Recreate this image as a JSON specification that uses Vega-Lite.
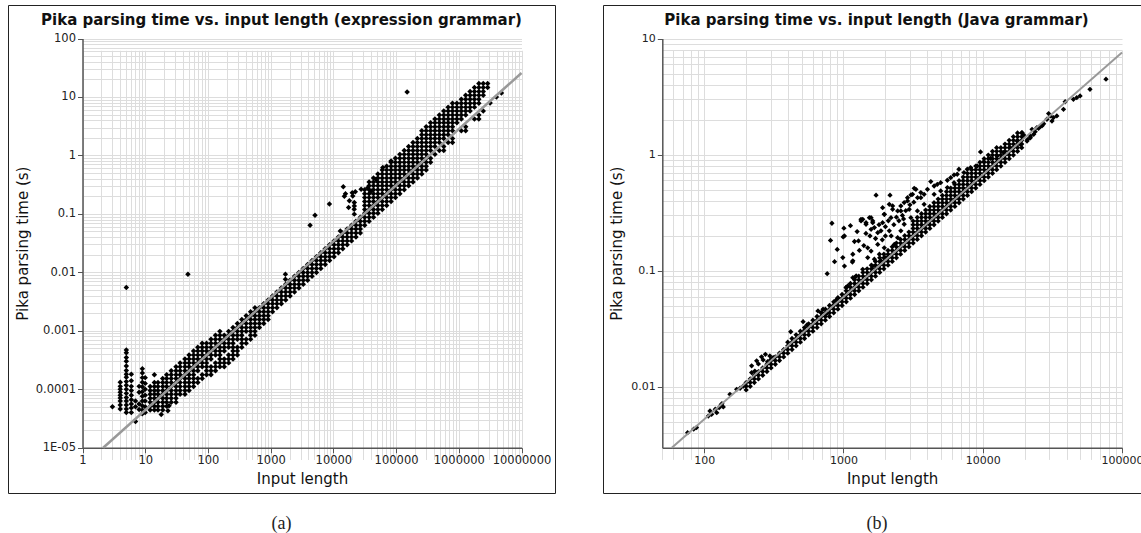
{
"$schema":"https://vega.github.io/schema/vega-lite/v6.json",
"background":"white",
"padding":{"left":7,"top":4,"right":0,"bottom":0},
"spacing":46,
"config":{
 "font":"DejaVu Sans",
 "view":{"stroke":"#222","strokeWidth":1,"fill":"white"},
 "axis":{"domainColor":"#555","domainWidth":1.5,"tickColor":"#555","tickWidth":1,"tickSize":5,"labelColor":"#222","labelFont":"DejaVu Sans","labelPadding":2,"labelFlush":false,"labelOverlap":false,"gridColor":"#dddddd","gridWidth":1,"titleFont":"DejaVu Sans","titleFontSize":15,"titleFontWeight":"normal","titleColor":"#111"},
 "title":{"font":"DejaVu Sans","fontSize":15,"fontWeight":"bold","color":"#111"}
},
"datasets":{
"a":[
{"n":3,"t":5.0e-5},
{"n":4,"t":1.32e-4},{"n":4,"t":1.12e-4},{"n":4,"t":1.0e-4},{"n":4,"t":8.9e-5},{"n":4,"t":7.9e-5},{"n":4,"t":7.1e-5},{"n":4,"t":6.3e-5},{"n":4,"t":5.4e-5},{"n":4,"t":4.6e-5},
{"n":5,"t":0.0055},{"n":5,"t":4.7e-4},{"n":5,"t":4.2e-4},{"n":5,"t":3.5e-4},{"n":5,"t":3.0e-4},{"n":5,"t":2.5e-4},{"n":5,"t":2.1e-4},{"n":5,"t":1.8e-4},{"n":5,"t":1.6e-4},{"n":5,"t":1.35e-4},{"n":5,"t":1.17e-4},{"n":5,"t":1.0e-4},{"n":5,"t":8.5e-5},{"n":5,"t":7.2e-5},{"n":5,"t":6.3e-5},{"n":5,"t":5.4e-5},{"n":5,"t":4.6e-5},{"n":5,"t":4.0e-5},
{"n":6,"t":1.8e-4},{"n":6,"t":1.4e-4},{"n":6,"t":1.12e-4},{"n":6,"t":9.5e-5},{"n":6,"t":7.9e-5},{"n":6,"t":6.6e-5},{"n":6,"t":5.6e-5},{"n":6,"t":4.8e-5},{"n":6,"t":4.0e-5},
{"n":7,"t":6.3e-5},{"n":7,"t":5.0e-5},{"n":7,"t":2.8e-5},
{"n":8,"t":1.12e-4},{"n":8,"t":8.9e-5},{"n":8,"t":5.6e-5},{"n":8,"t":4.5e-5},
{"n":9,"t":2.24e-4},{"n":9,"t":1.9e-4},{"n":9,"t":1.58e-4},{"n":9,"t":1.32e-4},{"n":9,"t":1.1e-4},{"n":9,"t":9.1e-5},{"n":9,"t":7.6e-5},{"n":9,"t":6.3e-5},{"n":9,"t":5.2e-5},{"n":9,"t":4.4e-5},{"n":9,"t":3.8e-5},
{"n":10,"t":1.58e-4},{"n":10,"t":1.26e-4},{"n":10,"t":1.0e-4},{"n":10,"t":7.9e-5},{"n":10,"t":6.3e-5},{"n":10,"t":5.0e-5},{"n":10,"t":4.0e-5},
{"n":18,"t":3.7e-5},{"n":24,"t":5.2e-5},{"n":23,"t":4.3e-5},{"n":48,"t":0.0093},{"n":1720,"t":0.0093},{"n":1720,"t":0.0076},{"n":150000,"t":12.2},
{"n":12,"t":4.41e-5},{"n":12,"t":5.14e-5},{"n":12,"t":6.0e-5},{"n":12,"t":7.02e-5},{"n":12,"t":8.19e-5},{"n":12,"t":9.55e-5},{"n":12,"t":1.114e-4},
{"n":14,"t":4.41e-5},{"n":14,"t":5.14e-5},{"n":14,"t":6.0e-5},{"n":14,"t":7.02e-5},{"n":14,"t":8.19e-5},{"n":14,"t":9.55e-5},{"n":14,"t":1.114e-4},{"n":14,"t":1.303e-4},{"n":14,"t":1.774e-4},
{"n":16,"t":4.41e-5},{"n":16,"t":5.14e-5},{"n":16,"t":6.0e-5},{"n":16,"t":7.02e-5},{"n":16,"t":8.19e-5},{"n":16,"t":9.55e-5},{"n":16,"t":1.114e-4},{"n":16,"t":1.303e-4},
{"n":19,"t":4.41e-5},{"n":19,"t":5.14e-5},{"n":19,"t":6.0e-5},{"n":19,"t":7.02e-5},{"n":19,"t":8.19e-5},{"n":19,"t":9.55e-5},{"n":19,"t":1.114e-4},{"n":19,"t":1.303e-4},{"n":19,"t":1.521e-4},
{"n":22,"t":5.14e-5},{"n":22,"t":6.0e-5},{"n":22,"t":7.02e-5},{"n":22,"t":8.19e-5},{"n":22,"t":9.55e-5},{"n":22,"t":1.114e-4},{"n":22,"t":1.303e-4},{"n":22,"t":1.521e-4},{"n":22,"t":1.774e-4},
{"n":26,"t":6.0e-5},{"n":26,"t":7.02e-5},{"n":26,"t":8.19e-5},{"n":26,"t":9.55e-5},{"n":26,"t":1.114e-4},{"n":26,"t":1.303e-4},{"n":26,"t":1.521e-4},{"n":26,"t":1.774e-4},{"n":26,"t":2.075e-4},
{"n":31,"t":6.0e-5},{"n":31,"t":7.02e-5},{"n":31,"t":8.19e-5},{"n":31,"t":9.55e-5},{"n":31,"t":1.114e-4},{"n":31,"t":1.303e-4},{"n":31,"t":1.521e-4},{"n":31,"t":1.774e-4},{"n":31,"t":2.075e-4},{"n":31,"t":2.421e-4},
{"n":36,"t":8.19e-5},{"n":36,"t":9.55e-5},{"n":36,"t":1.114e-4},{"n":36,"t":1.303e-4},{"n":36,"t":1.521e-4},{"n":36,"t":1.774e-4},{"n":36,"t":2.075e-4},{"n":36,"t":2.421e-4},{"n":36,"t":2.825e-4},
{"n":43,"t":8.19e-5},{"n":43,"t":9.55e-5},{"n":43,"t":1.114e-4},{"n":43,"t":1.303e-4},{"n":43,"t":1.521e-4},{"n":43,"t":1.774e-4},{"n":43,"t":2.075e-4},{"n":43,"t":2.421e-4},{"n":43,"t":2.825e-4},{"n":43,"t":3.304e-4},
{"n":50,"t":9.55e-5},{"n":50,"t":1.114e-4},{"n":50,"t":1.303e-4},{"n":50,"t":1.521e-4},{"n":50,"t":1.774e-4},{"n":50,"t":2.075e-4},{"n":50,"t":2.421e-4},{"n":50,"t":2.825e-4},{"n":50,"t":3.304e-4},{"n":50,"t":3.855e-4},
{"n":59,"t":1.114e-4},{"n":59,"t":1.303e-4},{"n":59,"t":1.521e-4},{"n":59,"t":1.774e-4},{"n":59,"t":2.075e-4},{"n":59,"t":2.421e-4},{"n":59,"t":2.825e-4},{"n":59,"t":3.304e-4},{"n":59,"t":3.855e-4},{"n":59,"t":4.498e-4},
{"n":69,"t":1.303e-4},{"n":69,"t":1.521e-4},{"n":69,"t":2.075e-4},{"n":69,"t":2.421e-4},{"n":69,"t":2.825e-4},{"n":69,"t":3.304e-4},{"n":69,"t":3.855e-4},{"n":69,"t":4.498e-4},{"n":69,"t":5.248e-4},
{"n":81,"t":1.521e-4},{"n":81,"t":1.774e-4},{"n":81,"t":2.421e-4},{"n":81,"t":2.825e-4},{"n":81,"t":3.304e-4},{"n":81,"t":3.855e-4},{"n":81,"t":4.498e-4},{"n":81,"t":5.248e-4},{"n":81,"t":6.138e-4},
{"n":95,"t":1.774e-4},{"n":95,"t":2.075e-4},{"n":95,"t":2.421e-4},{"n":95,"t":2.825e-4},{"n":95,"t":3.304e-4},{"n":95,"t":3.855e-4},{"n":95,"t":4.498e-4},{"n":95,"t":5.248e-4},{"n":95,"t":6.138e-4},
{"n":112,"t":1.774e-4},{"n":112,"t":2.075e-4},{"n":112,"t":2.421e-4},{"n":112,"t":3.304e-4},{"n":112,"t":3.855e-4},{"n":112,"t":4.498e-4},{"n":112,"t":5.248e-4},{"n":112,"t":6.138e-4},{"n":112,"t":7.161e-4},
{"n":132,"t":2.075e-4},{"n":132,"t":2.421e-4},{"n":132,"t":2.825e-4},{"n":132,"t":3.855e-4},{"n":132,"t":4.498e-4},{"n":132,"t":5.248e-4},{"n":132,"t":6.138e-4},{"n":132,"t":7.161e-4},{"n":132,"t":8.356e-4},
{"n":155,"t":2.421e-4},{"n":155,"t":2.825e-4},{"n":155,"t":3.304e-4},{"n":155,"t":3.855e-4},{"n":155,"t":4.498e-4},{"n":155,"t":5.248e-4},{"n":155,"t":6.138e-4},{"n":155,"t":7.161e-4},{"n":155,"t":8.356e-4},{"n":155,"t":9.772e-4},
{"n":182,"t":2.421e-4},{"n":182,"t":2.825e-4},{"n":182,"t":3.304e-4},{"n":182,"t":4.498e-4},{"n":182,"t":5.248e-4},{"n":182,"t":6.138e-4},{"n":182,"t":7.161e-4},{"n":182,"t":8.356e-4},
{"n":214,"t":2.825e-4},{"n":214,"t":3.304e-4},{"n":214,"t":3.855e-4},{"n":214,"t":5.248e-4},{"n":214,"t":6.138e-4},{"n":214,"t":7.161e-4},{"n":214,"t":8.356e-4},{"n":214,"t":9.772e-4},
{"n":251,"t":3.304e-4},{"n":251,"t":3.855e-4},{"n":251,"t":4.498e-4},{"n":251,"t":5.248e-4},{"n":251,"t":6.138e-4},{"n":251,"t":7.161e-4},{"n":251,"t":8.356e-4},{"n":251,"t":9.772e-4},{"n":251,"t":1.14e-3},
{"n":295,"t":3.855e-4},{"n":295,"t":4.498e-4},{"n":295,"t":5.248e-4},{"n":295,"t":7.161e-4},{"n":295,"t":8.356e-4},{"n":295,"t":9.772e-4},{"n":295,"t":1.14e-3},{"n":295,"t":1.33e-3},
{"n":347,"t":5.248e-4},{"n":347,"t":6.138e-4},{"n":347,"t":7.161e-4},{"n":347,"t":8.356e-4},{"n":347,"t":9.772e-4},{"n":347,"t":1.14e-3},{"n":347,"t":1.33e-3},{"n":347,"t":1.556e-3},
{"n":407,"t":6.138e-4},{"n":407,"t":7.161e-4},{"n":407,"t":9.772e-4},{"n":407,"t":1.14e-3},{"n":407,"t":1.33e-3},{"n":407,"t":1.556e-3},{"n":407,"t":1.816e-3},
{"n":479,"t":7.161e-4},{"n":479,"t":8.356e-4},{"n":479,"t":9.772e-4},{"n":479,"t":1.14e-3},{"n":479,"t":1.33e-3},{"n":479,"t":1.556e-3},{"n":479,"t":1.816e-3},{"n":479,"t":2.118e-3},
{"n":562,"t":8.356e-4},{"n":562,"t":9.772e-4},{"n":562,"t":1.14e-3},{"n":562,"t":1.33e-3},{"n":562,"t":1.556e-3},{"n":562,"t":1.816e-3},{"n":562,"t":2.118e-3},{"n":562,"t":2.477e-3},
{"n":661,"t":1.14e-3},{"n":661,"t":1.33e-3},{"n":661,"t":1.556e-3},{"n":661,"t":1.816e-3},{"n":661,"t":2.118e-3},{"n":661,"t":2.477e-3},
{"n":776,"t":1.33e-3},{"n":776,"t":1.556e-3},{"n":776,"t":1.816e-3},{"n":776,"t":2.118e-3},{"n":776,"t":2.477e-3},{"n":776,"t":2.891e-3},
{"n":912,"t":1.556e-3},{"n":912,"t":1.816e-3},{"n":912,"t":2.118e-3},{"n":912,"t":2.477e-3},{"n":912,"t":2.891e-3},{"n":912,"t":3.373e-3},
{"n":1072,"t":2.118e-3},{"n":1072,"t":2.477e-3},{"n":1072,"t":2.891e-3},{"n":1072,"t":3.373e-3},{"n":1072,"t":3.936e-3},
{"n":1259,"t":2.477e-3},{"n":1259,"t":2.891e-3},{"n":1259,"t":3.373e-3},{"n":1259,"t":3.936e-3},{"n":1259,"t":4.603e-3},
{"n":1479,"t":2.891e-3},{"n":1479,"t":3.373e-3},{"n":1479,"t":3.936e-3},{"n":1479,"t":4.603e-3},{"n":1479,"t":5.37e-3},
{"n":1738,"t":3.373e-3},{"n":1738,"t":3.936e-3},{"n":1738,"t":4.603e-3},{"n":1738,"t":5.37e-3},{"n":1738,"t":6.266e-3},
{"n":2042,"t":3.936e-3},{"n":2042,"t":4.603e-3},{"n":2042,"t":5.37e-3},{"n":2042,"t":6.266e-3},{"n":2042,"t":7.328e-3},
{"n":2399,"t":4.603e-3},{"n":2399,"t":5.37e-3},{"n":2399,"t":6.266e-3},{"n":2399,"t":7.328e-3},{"n":2399,"t":8.551e-3},
{"n":2818,"t":5.37e-3},{"n":2818,"t":6.266e-3},{"n":2818,"t":7.328e-3},{"n":2818,"t":8.551e-3},{"n":2818,"t":9.977e-3},
{"n":3311,"t":6.266e-3},{"n":3311,"t":7.328e-3},{"n":3311,"t":8.551e-3},{"n":3311,"t":9.977e-3},{"n":3311,"t":0.01164},
{"n":3890,"t":7.328e-3},{"n":3890,"t":8.551e-3},{"n":3890,"t":9.977e-3},{"n":3890,"t":0.01164},{"n":3890,"t":0.01361},
{"n":4571,"t":8.551e-3},{"n":4571,"t":9.977e-3},{"n":4571,"t":0.01164},{"n":4571,"t":0.01361},{"n":4571,"t":0.01589},
{"n":5370,"t":9.977e-3},{"n":5370,"t":0.01164},{"n":5370,"t":0.01361},{"n":5370,"t":0.01589},{"n":5370,"t":0.01854},
{"n":6310,"t":0.01164},{"n":6310,"t":0.01361},{"n":6310,"t":0.01589},{"n":6310,"t":0.01854},{"n":6310,"t":0.02168},
{"n":7413,"t":0.01361},{"n":7413,"t":0.01589},{"n":7413,"t":0.01854},{"n":7413,"t":0.02168},{"n":7413,"t":0.02529},
{"n":8710,"t":0.01589},{"n":8710,"t":0.01854},{"n":8710,"t":0.02168},{"n":8710,"t":0.02529},{"n":8710,"t":0.02951},
{"n":10233,"t":0.01854},{"n":10233,"t":0.02168},{"n":10233,"t":0.02529},{"n":10233,"t":0.02951},{"n":10233,"t":0.03451},
{"n":12023,"t":0.02168},{"n":12023,"t":0.02529},{"n":12023,"t":0.02951},{"n":12023,"t":0.03451},{"n":12023,"t":0.04027},
{"n":14125,"t":0.02529},{"n":14125,"t":0.02951},{"n":14125,"t":0.03451},{"n":14125,"t":0.04027},{"n":14125,"t":0.04699},
{"n":16596,"t":0.02951},{"n":16596,"t":0.03451},{"n":16596,"t":0.04027},{"n":16596,"t":0.04699},{"n":16596,"t":0.05495},
{"n":19498,"t":0.03451},{"n":19498,"t":0.04027},{"n":19498,"t":0.04699},{"n":19498,"t":0.05495},{"n":19498,"t":0.06412},
{"n":22909,"t":0.04027},{"n":22909,"t":0.04699},{"n":22909,"t":0.05495},{"n":22909,"t":0.06412},{"n":22909,"t":0.07482},
{"n":26915,"t":0.04699},{"n":26915,"t":0.05495},{"n":26915,"t":0.06412},{"n":26915,"t":0.07482},{"n":26915,"t":0.0873},
{"n":31623,"t":0.06412},{"n":31623,"t":0.07482},{"n":31623,"t":0.0873},{"n":31623,"t":0.1021},{"n":31623,"t":0.1191},{"n":31623,"t":0.139},{"n":31623,"t":0.1626},{"n":31623,"t":0.1897},{"n":31623,"t":0.2213},{"n":31623,"t":0.2588},
{"n":37154,"t":0.07482},{"n":37154,"t":0.0873},{"n":37154,"t":0.1021},{"n":37154,"t":0.1191},{"n":37154,"t":0.139},{"n":37154,"t":0.1626},{"n":37154,"t":0.1897},{"n":37154,"t":0.2213},{"n":37154,"t":0.2588},{"n":37154,"t":0.302},{"n":37154,"t":0.3524},
{"n":43652,"t":0.0873},{"n":43652,"t":0.1021},{"n":43652,"t":0.1191},{"n":43652,"t":0.139},{"n":43652,"t":0.1626},{"n":43652,"t":0.1897},{"n":43652,"t":0.2213},{"n":43652,"t":0.2588},{"n":43652,"t":0.302},{"n":43652,"t":0.3524},{"n":43652,"t":0.4121},
{"n":51286,"t":0.1021},{"n":51286,"t":0.1191},{"n":51286,"t":0.139},{"n":51286,"t":0.1626},{"n":51286,"t":0.1897},{"n":51286,"t":0.2213},{"n":51286,"t":0.2588},{"n":51286,"t":0.302},{"n":51286,"t":0.3524},{"n":51286,"t":0.4121},{"n":51286,"t":0.4808},
{"n":60256,"t":0.1191},{"n":60256,"t":0.139},{"n":60256,"t":0.1626},{"n":60256,"t":0.1897},{"n":60256,"t":0.2213},{"n":60256,"t":0.2588},{"n":60256,"t":0.302},{"n":60256,"t":0.3524},{"n":60256,"t":0.4121},{"n":60256,"t":0.4808},{"n":60256,"t":0.561},
{"n":70795,"t":0.139},{"n":70795,"t":0.1626},{"n":70795,"t":0.1897},{"n":70795,"t":0.2213},{"n":70795,"t":0.2588},{"n":70795,"t":0.302},{"n":70795,"t":0.3524},{"n":70795,"t":0.4121},{"n":70795,"t":0.4808},{"n":70795,"t":0.561},{"n":70795,"t":0.6546},
{"n":83176,"t":0.1626},{"n":83176,"t":0.1897},{"n":83176,"t":0.2213},{"n":83176,"t":0.2588},{"n":83176,"t":0.302},{"n":83176,"t":0.3524},{"n":83176,"t":0.4121},{"n":83176,"t":0.4808},{"n":83176,"t":0.561},{"n":83176,"t":0.6546},{"n":83176,"t":0.7656},
{"n":97724,"t":0.1897},{"n":97724,"t":0.2213},{"n":97724,"t":0.2588},{"n":97724,"t":0.302},{"n":97724,"t":0.3524},{"n":97724,"t":0.4121},{"n":97724,"t":0.4808},{"n":97724,"t":0.561},{"n":97724,"t":0.6546},{"n":97724,"t":0.7656},{"n":97724,"t":0.8933},
{"n":114815,"t":0.2213},{"n":114815,"t":0.2588},{"n":114815,"t":0.302},{"n":114815,"t":0.3524},{"n":114815,"t":0.4121},{"n":114815,"t":0.4808},{"n":114815,"t":0.561},{"n":114815,"t":0.6546},{"n":114815,"t":0.7656},{"n":114815,"t":0.8933},{"n":114815,"t":1.042},
{"n":134896,"t":0.2588},{"n":134896,"t":0.302},{"n":134896,"t":0.3524},{"n":134896,"t":0.4121},{"n":134896,"t":0.4808},{"n":134896,"t":0.561},{"n":134896,"t":0.6546},{"n":134896,"t":0.7656},{"n":134896,"t":0.8933},{"n":134896,"t":1.042},{"n":134896,"t":1.219},
{"n":158489,"t":0.302},{"n":158489,"t":0.3524},{"n":158489,"t":0.4121},{"n":158489,"t":0.4808},{"n":158489,"t":0.561},{"n":158489,"t":0.6546},{"n":158489,"t":0.7656},{"n":158489,"t":0.8933},{"n":158489,"t":1.042},{"n":158489,"t":1.219},{"n":158489,"t":1.422},
{"n":186209,"t":0.3524},{"n":186209,"t":0.4121},{"n":186209,"t":0.4808},{"n":186209,"t":0.561},{"n":186209,"t":0.6546},{"n":186209,"t":0.7656},{"n":186209,"t":0.8933},{"n":186209,"t":1.042},{"n":186209,"t":1.219},{"n":186209,"t":1.422},{"n":186209,"t":1.66},
{"n":218776,"t":0.4121},{"n":218776,"t":0.4808},{"n":218776,"t":0.561},{"n":218776,"t":0.6546},{"n":218776,"t":0.7656},{"n":218776,"t":0.8933},{"n":218776,"t":1.042},{"n":218776,"t":1.219},{"n":218776,"t":1.422},{"n":218776,"t":1.66},{"n":218776,"t":1.941},
{"n":257040,"t":0.4808},{"n":257040,"t":0.561},{"n":257040,"t":0.6546},{"n":257040,"t":0.7656},{"n":257040,"t":0.8933},{"n":257040,"t":1.042},{"n":257040,"t":1.219},{"n":257040,"t":1.422},{"n":257040,"t":1.66},{"n":257040,"t":1.941},{"n":257040,"t":2.265},{"n":257040,"t":2.642},
{"n":301995,"t":0.561},{"n":301995,"t":0.6546},{"n":301995,"t":0.7656},{"n":301995,"t":0.8933},{"n":301995,"t":1.042},{"n":301995,"t":1.219},{"n":301995,"t":1.422},{"n":301995,"t":1.66},{"n":301995,"t":1.941},{"n":301995,"t":2.265},{"n":301995,"t":2.642},{"n":301995,"t":3.083},
{"n":354813,"t":0.7656},{"n":354813,"t":0.8933},{"n":354813,"t":1.219},{"n":354813,"t":1.422},{"n":354813,"t":1.66},{"n":354813,"t":1.941},{"n":354813,"t":2.265},{"n":354813,"t":2.642},{"n":354813,"t":3.083},{"n":354813,"t":3.606},
{"n":416869,"t":1.042},{"n":416869,"t":1.422},{"n":416869,"t":1.66},{"n":416869,"t":1.941},{"n":416869,"t":2.265},{"n":416869,"t":2.642},{"n":416869,"t":3.083},{"n":416869,"t":3.606},{"n":416869,"t":4.207},
{"n":489779,"t":1.219},{"n":489779,"t":1.66},{"n":489779,"t":1.941},{"n":489779,"t":2.265},{"n":489779,"t":2.642},{"n":489779,"t":3.083},{"n":489779,"t":3.606},{"n":489779,"t":4.207},{"n":489779,"t":4.909},
{"n":575440,"t":1.219},{"n":575440,"t":1.422},{"n":575440,"t":1.941},{"n":575440,"t":2.265},{"n":575440,"t":2.642},{"n":575440,"t":3.083},{"n":575440,"t":3.606},{"n":575440,"t":4.207},{"n":575440,"t":4.909},{"n":575440,"t":5.741},
{"n":676083,"t":1.66},{"n":676083,"t":2.265},{"n":676083,"t":2.642},{"n":676083,"t":3.083},{"n":676083,"t":3.606},{"n":676083,"t":4.207},{"n":676083,"t":4.909},{"n":676083,"t":5.741},{"n":676083,"t":6.699},
{"n":794328,"t":1.66},{"n":794328,"t":1.941},{"n":794328,"t":2.642},{"n":794328,"t":3.083},{"n":794328,"t":3.606},{"n":794328,"t":4.207},{"n":794328,"t":4.909},{"n":794328,"t":5.741},{"n":794328,"t":6.699},{"n":794328,"t":7.816},
{"n":933254,"t":3.606},{"n":933254,"t":4.207},{"n":933254,"t":4.909},{"n":933254,"t":5.741},{"n":933254,"t":6.699},{"n":933254,"t":7.816},
{"n":1096478,"t":2.642},{"n":1096478,"t":4.207},{"n":1096478,"t":4.909},{"n":1096478,"t":5.741},{"n":1096478,"t":6.699},{"n":1096478,"t":7.816},{"n":1096478,"t":9.141},
{"n":1288250,"t":2.642},{"n":1288250,"t":3.083},{"n":1288250,"t":4.909},{"n":1288250,"t":5.741},{"n":1288250,"t":6.699},{"n":1288250,"t":7.816},{"n":1288250,"t":9.141},{"n":1288250,"t":10.67},
{"n":1513561,"t":5.741},{"n":1513561,"t":6.699},{"n":1513561,"t":7.816},{"n":1513561,"t":9.141},{"n":1513561,"t":10.67},{"n":1513561,"t":12.45},
{"n":1778279,"t":4.207},{"n":1778279,"t":6.699},{"n":1778279,"t":7.816},{"n":1778279,"t":9.141},{"n":1778279,"t":10.67},{"n":1778279,"t":12.45},{"n":1778279,"t":14.55},
{"n":2089296,"t":4.909},{"n":2089296,"t":4.207},{"n":2089296,"t":7.816},{"n":2089296,"t":9.141},{"n":2089296,"t":10.67},{"n":2089296,"t":12.45},{"n":2089296,"t":14.55},{"n":2089296,"t":16.98},
{"n":2454709,"t":5.741},{"n":2454709,"t":10.67},{"n":2454709,"t":12.45},{"n":2454709,"t":14.55},{"n":2454709,"t":16.98},
{"n":2884032,"t":14.55},{"n":2884032,"t":16.98},
{"n":3162278,"t":7.9},{"n":3981072,"t":10.0},{"n":4786301,"t":11.7},
{"n":4250,"t":0.064},{"n":5100,"t":0.095},{"n":8650,"t":0.147},{"n":12900,"t":0.051},{"n":14400,"t":0.29},{"n":15600,"t":0.22},{"n":15000,"t":0.2},{"n":18000,"t":0.167},{"n":20000,"t":0.23},{"n":17500,"t":0.128},{"n":21500,"t":0.12},{"n":27700,"t":0.264},{"n":22400,"t":0.238},{"n":20400,"t":0.203},{"n":21600,"t":0.156},{"n":21600,"t":0.137},{"n":21600,"t":0.099},{"n":35400,"t":0.28},{"n":39900,"t":0.247},{"n":47900,"t":0.39},{"n":61400,"t":0.62},{"n":83200,"t":0.8}
],
"b":[
{"n":76,"t":0.00404},{"n":84,"t":0.00433},{"n":88,"t":0.00447},{"n":107,"t":0.00562},{"n":110,"t":0.00621},{"n":113,"t":0.00582},{"n":120,"t":0.00643},{"n":123,"t":0.00601},{"n":128,"t":0.00664},{"n":132,"t":0.0070},{"n":134,"t":0.00718},{"n":137,"t":0.00673},{"n":153,"t":0.00865},{"n":171,"t":0.00955},{"n":181,"t":0.00975},{"n":191,"t":0.0102},{"n":197,"t":0.0104},
{"n":219,"t":0.0152},{"n":238,"t":0.0168},{"n":258,"t":0.0182},{"n":275,"t":0.0191},{"n":296,"t":0.0185},{"n":313,"t":0.0179},{"n":219,"t":0.0133},{"n":231,"t":0.0137},{"n":245,"t":0.0158},{"n":265,"t":0.0171},{"n":285,"t":0.0165},{"n":300,"t":0.0172},
{"n":418,"t":0.0299},{"n":513,"t":0.0365},{"n":547,"t":0.0342},{"n":526,"t":0.0308},{"n":656,"t":0.0452},{"n":693,"t":0.0437},{"n":713,"t":0.0467},{"n":839,"t":0.0499},{"n":912,"t":0.0587},{"n":880,"t":0.0556},{"n":760,"t":0.043},
{"n":200,"t":0.00944},{"n":200,"t":0.01014},{"n":200,"t":0.01091},
{"n":214,"t":0.01014},{"n":214,"t":0.01091},{"n":214,"t":0.01174},
{"n":229,"t":0.01091},{"n":229,"t":0.01174},{"n":229,"t":0.01262},
{"n":245,"t":0.01174},{"n":245,"t":0.01262},{"n":245,"t":0.01358},
{"n":263,"t":0.01262},{"n":263,"t":0.01358},{"n":263,"t":0.0146},
{"n":282,"t":0.01358},{"n":282,"t":0.0146},{"n":282,"t":0.0157},
{"n":302,"t":0.0146},{"n":302,"t":0.0157},{"n":302,"t":0.01689},
{"n":324,"t":0.0157},{"n":324,"t":0.01689},{"n":324,"t":0.01816},
{"n":347,"t":0.01689},{"n":347,"t":0.01816},{"n":347,"t":0.01954},
{"n":372,"t":0.01816},{"n":372,"t":0.01954},{"n":372,"t":0.02101},
{"n":398,"t":0.01954},{"n":398,"t":0.02101},{"n":398,"t":0.0226},{"n":398,"t":0.0243},
{"n":427,"t":0.02101},{"n":427,"t":0.0226},{"n":427,"t":0.0243},{"n":427,"t":0.02614},
{"n":457,"t":0.0226},{"n":457,"t":0.0243},{"n":457,"t":0.02614},{"n":457,"t":0.02811},
{"n":490,"t":0.0243},{"n":490,"t":0.02614},{"n":490,"t":0.02811},{"n":490,"t":0.03023},
{"n":525,"t":0.02614},{"n":525,"t":0.02811},{"n":525,"t":0.03023},{"n":525,"t":0.03251},
{"n":562,"t":0.02811},{"n":562,"t":0.03023},{"n":562,"t":0.03251},{"n":562,"t":0.03497},
{"n":603,"t":0.03023},{"n":603,"t":0.03251},{"n":603,"t":0.03497},{"n":603,"t":0.03761},
{"n":646,"t":0.03251},{"n":646,"t":0.03497},{"n":646,"t":0.03761},{"n":646,"t":0.04045},
{"n":692,"t":0.03497},{"n":692,"t":0.03761},{"n":692,"t":0.04045},{"n":692,"t":0.0435},
{"n":741,"t":0.03761},{"n":741,"t":0.04045},{"n":741,"t":0.0435},{"n":741,"t":0.04678},
{"n":794,"t":0.04045},{"n":794,"t":0.0435},{"n":794,"t":0.04678},{"n":794,"t":0.05031},
{"n":851,"t":0.0435},{"n":851,"t":0.04678},{"n":851,"t":0.05031},{"n":851,"t":0.05411},
{"n":912,"t":0.04678},{"n":912,"t":0.05031},{"n":912,"t":0.05411},{"n":912,"t":0.05819},
{"n":977,"t":0.05031},{"n":977,"t":0.05411},{"n":977,"t":0.05819},{"n":977,"t":0.06258},
{"n":1047,"t":0.05411},{"n":1047,"t":0.05819},{"n":1047,"t":0.06258},{"n":1047,"t":0.06731},{"n":1047,"t":0.07239},
{"n":1122,"t":0.05819},{"n":1122,"t":0.06258},{"n":1122,"t":0.06731},{"n":1122,"t":0.07239},{"n":1122,"t":0.07785},
{"n":1202,"t":0.06258},{"n":1202,"t":0.06731},{"n":1202,"t":0.07239},{"n":1202,"t":0.07785},{"n":1202,"t":0.08373},
{"n":1288,"t":0.06731},{"n":1288,"t":0.07239},{"n":1288,"t":0.07785},{"n":1288,"t":0.08373},{"n":1288,"t":0.09005},
{"n":1380,"t":0.07239},{"n":1380,"t":0.07785},{"n":1380,"t":0.08373},{"n":1380,"t":0.09005},{"n":1380,"t":0.09685},
{"n":1479,"t":0.07785},{"n":1479,"t":0.08373},{"n":1479,"t":0.09005},{"n":1479,"t":0.09685},{"n":1479,"t":0.1042},
{"n":1585,"t":0.08373},{"n":1585,"t":0.09005},{"n":1585,"t":0.09685},{"n":1585,"t":0.1042},{"n":1585,"t":0.112},
{"n":1698,"t":0.09005},{"n":1698,"t":0.09685},{"n":1698,"t":0.1042},{"n":1698,"t":0.112},{"n":1698,"t":0.1205},
{"n":1820,"t":0.09685},{"n":1820,"t":0.1042},{"n":1820,"t":0.112},{"n":1820,"t":0.1205},{"n":1820,"t":0.1296},
{"n":1950,"t":0.1042},{"n":1950,"t":0.112},{"n":1950,"t":0.1205},{"n":1950,"t":0.1296},{"n":1950,"t":0.1393},
{"n":2089,"t":0.112},{"n":2089,"t":0.1205},{"n":2089,"t":0.1296},{"n":2089,"t":0.1393},{"n":2089,"t":0.1499},
{"n":2239,"t":0.1205},{"n":2239,"t":0.1296},{"n":2239,"t":0.1393},{"n":2239,"t":0.1499},{"n":2239,"t":0.1612},
{"n":2399,"t":0.1296},{"n":2399,"t":0.1393},{"n":2399,"t":0.1499},{"n":2399,"t":0.1612},{"n":2399,"t":0.1734},
{"n":2570,"t":0.1393},{"n":2570,"t":0.1499},{"n":2570,"t":0.1612},{"n":2570,"t":0.1734},{"n":2570,"t":0.1864},
{"n":2754,"t":0.1499},{"n":2754,"t":0.1612},{"n":2754,"t":0.1734},{"n":2754,"t":0.1864},{"n":2754,"t":0.2005},
{"n":2951,"t":0.1612},{"n":2951,"t":0.1734},{"n":2951,"t":0.1864},{"n":2951,"t":0.2005},{"n":2951,"t":0.2157},
{"n":3162,"t":0.1734},{"n":3162,"t":0.1864},{"n":3162,"t":0.2005},{"n":3162,"t":0.2157},{"n":3162,"t":0.2319},{"n":3162,"t":0.2494},{"n":3162,"t":0.2683},
{"n":3388,"t":0.1864},{"n":3388,"t":0.2005},{"n":3388,"t":0.2157},{"n":3388,"t":0.2319},{"n":3388,"t":0.2494},{"n":3388,"t":0.2683},{"n":3388,"t":0.2885},
{"n":3631,"t":0.2005},{"n":3631,"t":0.2157},{"n":3631,"t":0.2319},{"n":3631,"t":0.2494},{"n":3631,"t":0.2683},{"n":3631,"t":0.2885},{"n":3631,"t":0.3103},
{"n":3890,"t":0.2157},{"n":3890,"t":0.2319},{"n":3890,"t":0.2494},{"n":3890,"t":0.2683},{"n":3890,"t":0.2885},{"n":3890,"t":0.3103},{"n":3890,"t":0.3337},
{"n":4169,"t":0.2319},{"n":4169,"t":0.2494},{"n":4169,"t":0.2683},{"n":4169,"t":0.2885},{"n":4169,"t":0.3103},{"n":4169,"t":0.3337},{"n":4169,"t":0.3589},
{"n":4467,"t":0.2494},{"n":4467,"t":0.2683},{"n":4467,"t":0.2885},{"n":4467,"t":0.3103},{"n":4467,"t":0.3337},{"n":4467,"t":0.3589},{"n":4467,"t":0.386},
{"n":4786,"t":0.2683},{"n":4786,"t":0.2885},{"n":4786,"t":0.3103},{"n":4786,"t":0.3337},{"n":4786,"t":0.3589},{"n":4786,"t":0.386},{"n":4786,"t":0.4151},
{"n":5129,"t":0.2885},{"n":5129,"t":0.3103},{"n":5129,"t":0.3337},{"n":5129,"t":0.3589},{"n":5129,"t":0.386},{"n":5129,"t":0.4151},{"n":5129,"t":0.4465},
{"n":5495,"t":0.3103},{"n":5495,"t":0.3337},{"n":5495,"t":0.3589},{"n":5495,"t":0.386},{"n":5495,"t":0.4151},{"n":5495,"t":0.4465},{"n":5495,"t":0.4802},
{"n":5888,"t":0.3337},{"n":5888,"t":0.3589},{"n":5888,"t":0.386},{"n":5888,"t":0.4151},{"n":5888,"t":0.4465},{"n":5888,"t":0.4802},{"n":5888,"t":0.5164},
{"n":6310,"t":0.3589},{"n":6310,"t":0.386},{"n":6310,"t":0.4151},{"n":6310,"t":0.4465},{"n":6310,"t":0.4802},{"n":6310,"t":0.5164},{"n":6310,"t":0.5554},
{"n":6761,"t":0.386},{"n":6761,"t":0.4151},{"n":6761,"t":0.4465},{"n":6761,"t":0.4802},{"n":6761,"t":0.5164},{"n":6761,"t":0.5554},{"n":6761,"t":0.5973},
{"n":7244,"t":0.4151},{"n":7244,"t":0.4465},{"n":7244,"t":0.4802},{"n":7244,"t":0.5164},{"n":7244,"t":0.5554},{"n":7244,"t":0.5973},{"n":7244,"t":0.6424},
{"n":7762,"t":0.4465},{"n":7762,"t":0.4802},{"n":7762,"t":0.5164},{"n":7762,"t":0.5554},{"n":7762,"t":0.5973},{"n":7762,"t":0.6424},{"n":7762,"t":0.6909},
{"n":8318,"t":0.4802},{"n":8318,"t":0.5164},{"n":8318,"t":0.5554},{"n":8318,"t":0.5973},{"n":8318,"t":0.6424},{"n":8318,"t":0.6909},{"n":8318,"t":0.743},
{"n":8913,"t":0.5164},{"n":8913,"t":0.5554},{"n":8913,"t":0.5973},{"n":8913,"t":0.6424},{"n":8913,"t":0.6909},{"n":8913,"t":0.743},{"n":8913,"t":0.7991},
{"n":9550,"t":0.5554},{"n":9550,"t":0.5973},{"n":9550,"t":0.6424},{"n":9550,"t":0.6909},{"n":9550,"t":0.743},{"n":9550,"t":0.7991},{"n":9550,"t":0.8594},
{"n":10233,"t":0.5973},{"n":10233,"t":0.6424},{"n":10233,"t":0.6909},{"n":10233,"t":0.743},{"n":10233,"t":0.7991},{"n":10233,"t":0.8594},{"n":10233,"t":0.9243},
{"n":10965,"t":0.6424},{"n":10965,"t":0.6909},{"n":10965,"t":0.743},{"n":10965,"t":0.7991},{"n":10965,"t":0.8594},{"n":10965,"t":0.9243},{"n":10965,"t":0.9941},
{"n":11749,"t":0.6909},{"n":11749,"t":0.743},{"n":11749,"t":0.7991},{"n":11749,"t":0.8594},{"n":11749,"t":0.9243},{"n":11749,"t":0.9941},{"n":11749,"t":1.069},
{"n":12589,"t":0.743},{"n":12589,"t":0.7991},{"n":12589,"t":0.8594},{"n":12589,"t":0.9243},{"n":12589,"t":0.9941},{"n":12589,"t":1.069},{"n":12589,"t":1.15},
{"n":13490,"t":0.7991},{"n":13490,"t":0.8594},{"n":13490,"t":0.9243},{"n":13490,"t":0.9941},{"n":13490,"t":1.069},{"n":13490,"t":1.15},
{"n":14454,"t":0.8594},{"n":14454,"t":0.9243},{"n":14454,"t":0.9941},{"n":14454,"t":1.069},{"n":14454,"t":1.15},{"n":14454,"t":1.236},
{"n":15488,"t":0.9243},{"n":15488,"t":0.9941},{"n":15488,"t":1.069},{"n":15488,"t":1.15},{"n":15488,"t":1.236},{"n":15488,"t":1.33},
{"n":16596,"t":0.9941},{"n":16596,"t":1.069},{"n":16596,"t":1.15},{"n":16596,"t":1.236},{"n":16596,"t":1.33},{"n":16596,"t":1.43},
{"n":17783,"t":1.069},{"n":17783,"t":1.15},{"n":17783,"t":1.236},{"n":17783,"t":1.33},{"n":17783,"t":1.43},{"n":17783,"t":1.538},
{"n":19055,"t":1.15},{"n":19055,"t":1.236},{"n":19055,"t":1.33},{"n":19055,"t":1.43},{"n":19055,"t":1.538},
{"n":826,"t":0.257},{"n":807,"t":0.183},{"n":764,"t":0.0946},{"n":863,"t":0.12},{"n":902,"t":0.153},{"n":1007,"t":0.233},{"n":1122,"t":0.245},{"n":995,"t":0.196},{"n":1016,"t":0.11},{"n":989,"t":0.13},{"n":1167,"t":0.139},{"n":1167,"t":0.122},{"n":1199,"t":0.179},{"n":1282,"t":0.181},{"n":1375,"t":0.278},{"n":1452,"t":0.26},{"n":1535,"t":0.287},{"n":1622,"t":0.269},{"n":1578,"t":0.228},{"n":1667,"t":0.236},{"n":1762,"t":0.213},{"n":1858,"t":0.221},{"n":1910,"t":0.26},{"n":1963,"t":0.307},{"n":2133,"t":0.221},{"n":2193,"t":0.287},{"n":2254,"t":0.362},{"n":1714,"t":0.448},{"n":2158,"t":0.448},{"n":2582,"t":0.328},{"n":2729,"t":0.252},{"n":2884,"t":0.4},{"n":2965,"t":0.339},{"n":3133,"t":0.456},{"n":3311,"t":0.504},{"n":3592,"t":0.427},{"n":4236,"t":0.587},{"n":6745,"t":0.75},
{"n":1493,"t":0.158},{"n":1578,"t":0.148},{"n":1762,"t":0.169},{"n":1963,"t":0.158},{"n":1667,"t":0.126},{"n":1811,"t":0.139},{"n":1375,"t":0.103},{"n":1233,"t":0.0903},{"n":1167,"t":0.0874},{"n":1075,"t":0.0741},{"n":1045,"t":0.0716},{"n":1493,"t":0.13},{"n":1622,"t":0.11},{"n":1858,"t":0.122},{"n":2018,"t":0.13},{"n":2317,"t":0.169},{"n":2449,"t":0.193},{"n":2582,"t":0.221},{"n":3048,"t":0.287},{"n":3396,"t":0.328},{"n":3793,"t":0.374},{"n":4477,"t":0.456},{"n":4990,"t":0.488},{"n":5571,"t":0.521},{"n":6223,"t":0.575},
{"n":1016,"t":0.2},{"n":1199,"t":0.0873},{"n":1159,"t":0.119},{"n":1253,"t":0.218},{"n":1336,"t":0.278},
{"n":1700,"t":0.19},{"n":1800,"t":0.25},{"n":1900,"t":0.185},{"n":2000,"t":0.24},{"n":2100,"t":0.27},{"n":2300,"t":0.25},{"n":2400,"t":0.29},{"n":2500,"t":0.27},{"n":2650,"t":0.3},{"n":2800,"t":0.33},{"n":1550,"t":0.2},{"n":1450,"t":0.21},{"n":1400,"t":0.165},{"n":1300,"t":0.15},{"n":2200,"t":0.2},{"n":2700,"t":0.28},{"n":3000,"t":0.37},{"n":3200,"t":0.39},{"n":2000,"t":0.2},
{"n":3221,"t":0.514},{"n":9638,"t":1.057},{"n":1337,"t":0.269},{"n":1452,"t":0.252},{"n":1578,"t":0.287},{"n":1622,"t":0.26},{"n":1965,"t":0.307},{"n":1910,"t":0.35},{"n":2133,"t":0.374},{"n":2254,"t":0.339},{"n":2449,"t":0.328},{"n":2582,"t":0.362},{"n":2729,"t":0.387},{"n":2884,"t":0.427},{"n":3048,"t":0.451},{"n":3404,"t":0.427},{"n":3592,"t":0.472},{"n":3793,"t":0.456},{"n":4009,"t":0.504},{"n":4477,"t":0.538},{"n":4721,"t":0.556},{"n":4990,"t":0.575},{"n":5571,"t":0.603},{"n":5888,"t":0.635},{"n":6223,"t":0.67},{"n":6561,"t":0.679},{"n":7328,"t":0.702},{"n":7745,"t":0.75},{"n":8185,"t":0.775},{"n":9120,"t":0.8},{"n":10186,"t":0.873},{"n":11376,"t":0.931},{"n":12690,"t":0.975},{"n":14160,"t":1.042},{"n":15810,"t":1.151},{"n":17620,"t":1.314},
{"n":20800,"t":1.31},{"n":18620,"t":1.23},{"n":21980,"t":1.4},{"n":23230,"t":1.5},{"n":19150,"t":1.55},{"n":19680,"t":1.479},{"n":22590,"t":1.656},{"n":24490,"t":1.713},{"n":25180,"t":1.69},{"n":26610,"t":1.77},{"n":27350,"t":1.85},{"n":28910,"t":2.02},{"n":29720,"t":2.26},{"n":30550,"t":2.16},{"n":31410,"t":1.95},{"n":32210,"t":2.09},{"n":34040,"t":2.16},{"n":38020,"t":2.46},{"n":39080,"t":2.86},{"n":44770,"t":3.0},{"n":47320,"t":3.1},{"n":50000,"t":3.21},{"n":58880,"t":3.66},{"n":76740,"t":4.47},{"n":21000,"t":1.35},{"n":22000,"t":1.45},{"n":23800,"t":1.58},{"n":25800,"t":1.75},{"n":27000,"t":1.82}
],
"fa":[{"n":2.14,"t":0.00001},{"n":10000000,"t":25.7}],
"fb":[{"n":58.5,"t":0.003},{"n":100000,"t":7.6}]
},
"hconcat":[
{
 "title":{"text":"(a)","orient":"bottom","offset":30.5,"baseline":"middle","anchor":"middle","font":"Liberation Serif","fontSize":18,"fontWeight":"normal","color":"#222"},
 "vconcat":[{
  "width":547,"height":488,
  "title":{"text":"Pika parsing time vs. input length (expression grammar)","offset":-29.5,"baseline":"middle","anchor":"middle","frame":"group"},
  "encoding":{
   "x":{"field":"n","type":"quantitative","scale":{"type":"log","domain":[1,10000000],"range":[74.5,513.5],"nice":false},
    "axis":{"title":"Input length","offset":-45.3,"grid":true,"labelFontSize":11.5,"titlePadding":5.5,
     "values":[1,2,3,4,5,6,7,8,9,10,20,30,40,50,60,70,80,90,100,200,300,400,500,600,700,800,900,1000,2000,3000,4000,5000,6000,7000,8000,9000,10000,20000,30000,40000,50000,60000,70000,80000,90000,100000,200000,300000,400000,500000,600000,700000,800000,900000,1000000,2000000,3000000,4000000,5000000,6000000,7000000,8000000,9000000,10000000],
     "labelExpr":"abs(log(datum.value)/LN10-round(log(datum.value)/LN10))<0.001 ? format(datum.value,'~r') : ''",
     "tickOpacity":{"condition":{"test":"abs(log(datum.value)/LN10-round(log(datum.value)/LN10))<0.001","value":1},"value":0}}},
   "y":{"field":"t","type":"quantitative","scale":{"type":"log","domain":[0.00001,100],"range":[442.7,33.5],"nice":false},
    "axis":{"title":"Pika parsing time (s)","offset":-74.5,"grid":true,"labelFontSize":11.5,"titlePadding":5,
     "values":[0.00001,0.00002,0.00003,0.00004,0.00005,0.00006,0.00007,0.00008,0.00009,0.0001,0.0002,0.0003,0.0004,0.0005,0.0006,0.0007,0.0008,0.0009,0.001,0.002,0.003,0.004,0.005,0.006,0.007,0.008,0.009,0.01,0.02,0.03,0.04,0.05,0.06,0.07,0.08,0.09,0.1,0.2,0.3,0.4,0.5,0.6,0.7,0.8,0.9,1,2,3,4,5,6,7,8,9,10,20,30,40,50,60,70,80,90,100],
     "labelExpr":"abs(log(datum.value)/LN10-round(log(datum.value)/LN10))<0.001 ? (datum.value<0.00002 ? '1E-05' : format(datum.value,'~r')) : ''",
     "tickOpacity":{"condition":{"test":"abs(log(datum.value)/LN10-round(log(datum.value)/LN10))<0.001","value":1},"value":0}}}
  },
  "layer":[
   {"data":{"name":"a"},"mark":{"type":"point","shape":"diamond","filled":true,"color":"#000","size":30,"opacity":1,"strokeWidth":0}},
   {"data":{"name":"fa"},"mark":{"type":"line","color":"#999999","strokeWidth":2.5}}
  ]
 }]
},
{
 "title":{"text":"(b)","orient":"bottom","offset":30.5,"baseline":"middle","anchor":"middle","dx":4,"font":"Liberation Serif","fontSize":18,"fontWeight":"normal","color":"#222"},
 "vconcat":[{
  "width":539,"height":488,
  "title":{"text":"Pika parsing time vs. input length (Java grammar)","offset":-29.5,"baseline":"middle","anchor":"middle","frame":"group","dx":4},
  "encoding":{
   "x":{"field":"n","type":"quantitative","scale":{"type":"log","domain":[50,100000],"range":[59.3,519],"nice":false},
    "axis":{"title":"Input length","offset":-45.3,"grid":true,"labelFontSize":11,"titlePadding":5.5,
     "values":[50,60,70,80,90,100,200,300,400,500,600,700,800,900,1000,2000,3000,4000,5000,6000,7000,8000,9000,10000,20000,30000,40000,50000,60000,70000,80000,90000,100000],
     "labelExpr":"abs(log(datum.value)/LN10-round(log(datum.value)/LN10))<0.001 ? format(datum.value,'~r') : ''",
     "tickOpacity":{"condition":{"test":"abs(log(datum.value)/LN10-round(log(datum.value)/LN10))<0.001","value":1},"value":0}}},
   "y":{"field":"t","type":"quantitative","scale":{"type":"log","domain":[0.003,10],"range":[442.7,33.6],"nice":false},
    "axis":{"title":"Pika parsing time (s)","offset":-59.3,"grid":true,"labelFontSize":11,"titlePadding":6,
     "values":[0.003,0.004,0.005,0.006,0.007,0.008,0.009,0.01,0.02,0.03,0.04,0.05,0.06,0.07,0.08,0.09,0.1,0.2,0.3,0.4,0.5,0.6,0.7,0.8,0.9,1,2,3,4,5,6,7,8,9,10],
     "labelExpr":"abs(log(datum.value)/LN10-round(log(datum.value)/LN10))<0.001 ? format(datum.value,'~r') : ''",
     "tickOpacity":{"condition":{"test":"abs(log(datum.value)/LN10-round(log(datum.value)/LN10))<0.001","value":1},"value":0}}}
  },
  "layer":[
   {"data":{"name":"b"},"mark":{"type":"point","shape":"diamond","filled":true,"color":"#000","size":28,"opacity":1,"strokeWidth":0}},
   {"data":{"name":"fb"},"mark":{"type":"line","color":"#999999","strokeWidth":2}}
  ]
 }]
}
]
}
